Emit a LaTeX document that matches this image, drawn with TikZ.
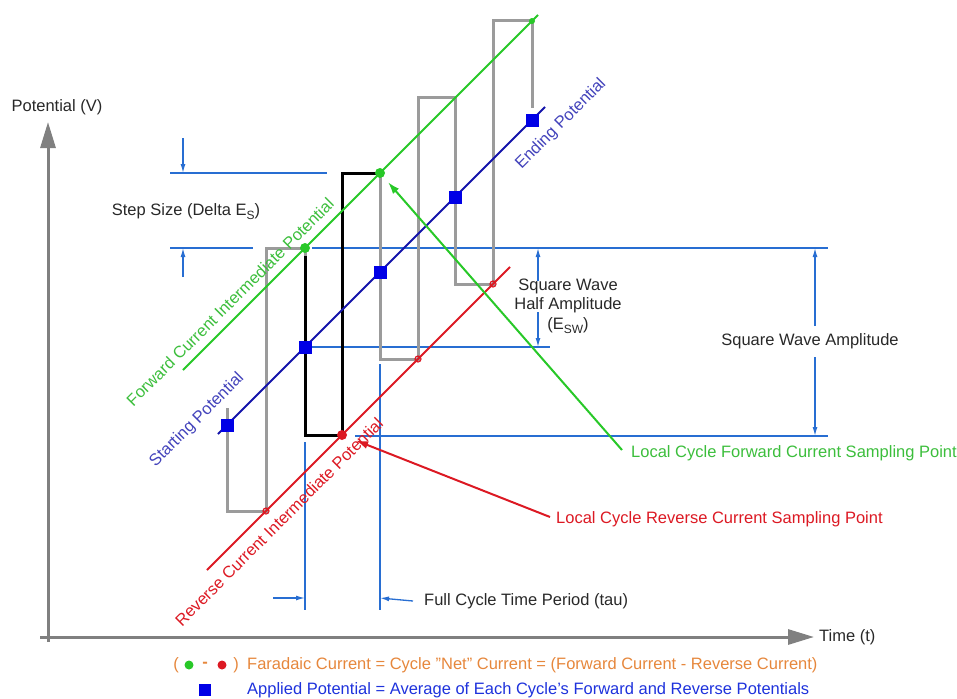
\documentclass[tikz,border=0pt]{standalone}
\usepackage{fontspec}
\setmainfont{Liberation Sans}
\usetikzlibrary{arrows.meta,positioning,calc}

\definecolor{axisgray}{RGB}{128,128,128}
\definecolor{wavegray}{RGB}{155,155,155}
\definecolor{fwdgreen}{RGB}{40,200,40}
\definecolor{fwdtext}{RGB}{60,190,60}
\definecolor{potblue}{RGB}{20,20,170}
\definecolor{sqblue}{RGB}{0,0,230}
\definecolor{revred}{RGB}{220,25,35}
\definecolor{dimblue}{RGB}{40,110,210}
\definecolor{txtgray}{RGB}{40,40,40}
\definecolor{netorange}{RGB}{230,135,60}
\definecolor{legblue}{RGB}{30,50,220}

\begin{document}
\begin{tikzpicture}[x=1pt, y=-1pt, font=\fontsize{16.5}{19.5}\selectfont, >=Latex]
\tikzstyle{axis}=[draw=axisgray, line width=3pt, -{Triangle[length=26pt,width=15pt]}]
\tikzstyle{dim}=[draw=dimblue, line width=1.3pt]
\tikzstyle{dimarrow}=[dim, -{Latex[length=9pt,width=5pt]}]
\tikzstyle{lbl}=[text=txtgray, inner sep=1pt]
\tikzstyle{sq}=[fill=sqblue, minimum size=13pt, inner sep=0pt]
\tikzstyle{gdot}=[circle, fill=fwdgreen, minimum size=10pt, inner sep=0pt]
\tikzstyle{rdot}=[circle, fill=revred, minimum size=10pt, inner sep=0pt]
\tikzstyle{rnotch}=[circle, draw=revred, line width=1.2pt, minimum size=6pt, inner sep=0pt]
\useasboundingbox (0,0) rectangle (957,698);

% axes
\draw[axis] (48,642) -- (48,122);
\draw[axis] (40,637) -- (814,637);
\node[lbl] (potv) at (57,107) {Potential (V)};
\node[lbl, anchor=west] (timet) at (818,637) {Time (t)};

% dimension lines
\draw[dim] (170,173) -- (327,173);
\draw[dim] (170,248) -- (253,248);
\draw[dim] (312,248) -- (828,248);
\draw[dim] (312,347) -- (550,347);
\draw[dim] (355,436) -- (828,436);
\draw[dim] (305,442) -- (305,610);
\draw[dim] (380,364) -- (380,610);

% square wave
\draw[wavegray, line width=3pt, line join=miter] (227,408) -- (227,511) -- (266,511) -- (266,248)
  -- (305,248) -- (305,435) -- (342,435) -- (342,173) -- (380,173) -- (380,359)
  -- (418,359) -- (418,98) -- (455,98) -- (455,284) -- (493,284) -- (493,21)
  -- (532,21) -- (532,108);
\draw[black, line width=3pt] (305,256) -- (305,435) -- (342,435) -- (342,173) -- (380,173);

% potential lines
\draw[fwdgreen, line width=2pt] (183,370) -- (538,15);
\draw[potblue, line width=2pt] (218,434) -- (545,107);
\draw[revred, line width=2pt] (207,570) -- (510,267);

\node[text=fwdtext, rotate=45, inner sep=1pt] (fwdpot) at (230,302) {Forward Current Intermediate Potential};
\node[text=revred, rotate=45, inner sep=1pt] (revpot) at (279,522) {Reverse Current Intermediate Potential};
\node[text=potblue!80!white, rotate=45, inner sep=1pt] (startpot) at (197,420) {Starting Potential};
\node[text=potblue!80!white, rotate=45, inner sep=1pt] (endpot) at (561,124) {Ending Potential};

% sampling points
\node[gdot] (g1) at (305,248) {};
\node[gdot] (g2) at (380,173) {};
\node[gdot, minimum size=6pt] (g3) at (532,21) {};
\node[rdot] (r1) at (342,435) {};
\node[rnotch] (n1) at (266,511) {};
\node[rnotch] (n2) at (418,359) {};
\node[rnotch] (n3) at (493,284) {};
\foreach \x in {227,305,380,455,532}
  \node[sq] (s\x) at (\x,{652-\x}) {};

% labels
\node[lbl] (stepsize) at (186,212) {Step Size (Delta E\raisebox{-0.45ex}{\fontsize{12}{12}\selectfont S})};
\draw[dimarrow] (183,138) -- (183,173);
\draw[dimarrow] (183,277) -- (183,248);
\node[lbl, align=center] (halfamp) at (568,306) {Square Wave\\Half Amplitude\\(E\raisebox{-0.45ex}{\fontsize{12}{12}\selectfont SW})};
\draw[dimarrow] (538,281) -- (538,248);
\draw[dimarrow] (538,312) -- (538,347);
\node[lbl] (amp) at (810,341) {Square Wave Amplitude};
\draw[dimarrow] (815,326) -- (815,248);
\draw[dimarrow] (815,357) -- (815,436);
\node[lbl, anchor=west] (tau) at (423,601) {Full Cycle Time Period (tau)};
\draw[dimarrow] (273,598) -- (305,598);
\draw[dimarrow] ([xshift=-10pt]tau.west) -- (380,598);

\node[text=fwdtext, anchor=west, inner sep=1pt] (lfwd) at (630,453) {Local Cycle Forward Current Sampling Point};
\node[text=revred, anchor=west, inner sep=1pt] (lrev) at (555,519) {Local Cycle Reverse Current Sampling Point};
\draw[fwdgreen, line width=2pt, -{Latex[length=12pt,width=8pt]}, shorten >=7pt] ([xshift=-8pt,yshift=3pt]lfwd.west) -- (g2);
\draw[revred, line width=2pt, -{Latex[length=12pt,width=8pt]}, shorten >=10pt] ([xshift=-5pt,yshift=2pt]lrev.west) -- (r1);

% legend
\node[text=netorange, inner sep=0pt] (lp1) at (176,665) {(};
\node[gdot, minimum size=9pt] (lg) at (189,665) {};
\node[text=netorange, inner sep=0pt] (ldash) at (205,665) {\textbf{-}};
\node[rdot, minimum size=9pt] (lr) at (222,665) {};
\node[text=netorange, inner sep=0pt] (lp2) at (236,665) {)};
\node[text=netorange, anchor=west, inner sep=0pt] (legnet) at (247,665) {Faradaic Current = Cycle \symbol{34}Net\symbol{34} Current = (Forward Current - Reverse Current)};
\node[sq, minimum size=12pt] (lsq) at (205,690) {};
\node[text=legblue, anchor=west, inner sep=0pt] (legapp) at (247,690) {Applied Potential = Average of Each Cycle\symbol{39}s Forward and Reverse Potentials};
\end{tikzpicture}
\end{document}
